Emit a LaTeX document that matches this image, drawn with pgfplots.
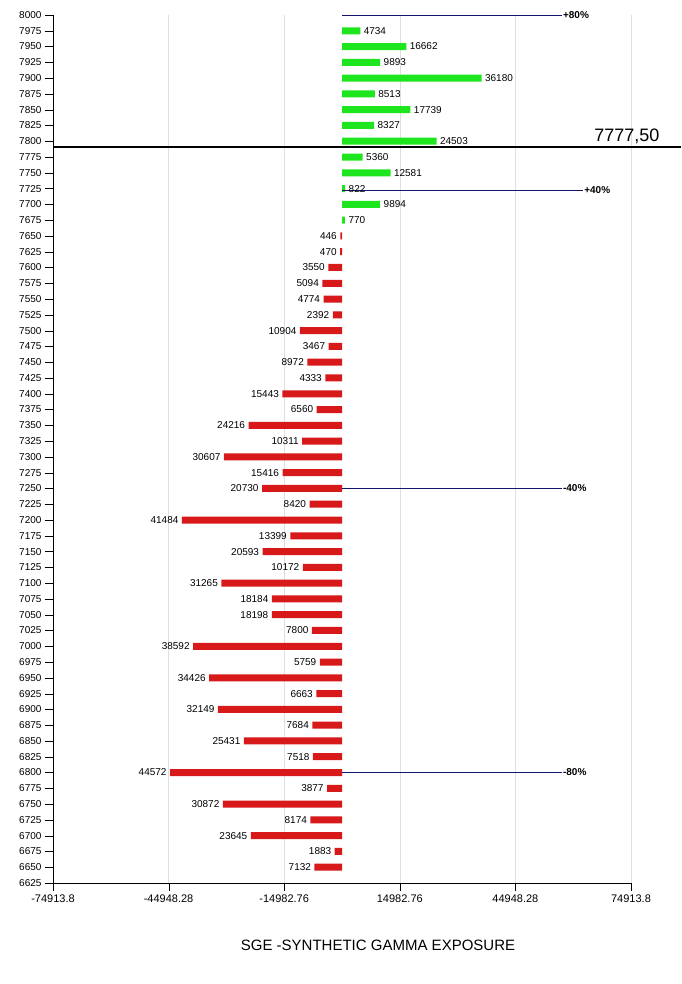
\documentclass[border=0pt]{standalone}
\usepackage{pgfplots}
\usepackage{pgfplotstable}
\pgfplotsset{compat=1.18}
\usepackage{fontspec}
\setmainfont{Liberation Sans}
\definecolor{gr}{RGB}{30,230,30}
\definecolor{rd}{RGB}{215,25,25}
\definecolor{navy}{RGB}{20,20,110}
\pgfplotstableread{
y v m
7975 4734 4734
7950 16662 16662
7925 9893 9893
7900 36180 36180
7875 8513 8513
7850 17739 17739
7825 8327 8327
7800 24503 24503
7775 5360 5360
7750 12581 12581
7725 822 822
7700 9894 9894
7675 770 770
}\pos
\pgfplotstableread{
y v m
7650 -446 446
7625 -470 470
7600 -3550 3550
7575 -5094 5094
7550 -4774 4774
7525 -2392 2392
7500 -10904 10904
7475 -3467 3467
7450 -8972 8972
7425 -4333 4333
7400 -15443 15443
7375 -6560 6560
7350 -24216 24216
7325 -10311 10311
7300 -30607 30607
7275 -15416 15416
7250 -20730 20730
7225 -8420 8420
7200 -41484 41484
7175 -13399 13399
7150 -20593 20593
7125 -10172 10172
7100 -31265 31265
7075 -18184 18184
7050 -18198 18198
7025 -7800 7800
7000 -38592 38592
6975 -5759 5759
6950 -34426 34426
6925 -6663 6663
6900 -32149 32149
6875 -7684 7684
6850 -25431 25431
6825 -7518 7518
6800 -44572 44572
6775 -3877 3877
6750 -30872 30872
6725 -8174 8174
6700 -23645 23645
6675 -1883 1883
6650 -7132 7132
}\negv
\begin{document}
\begin{tikzpicture}[x=1pt,y=1pt]
\path[use as bounding box] (0,0) rectangle (681,984);
\begin{axis}[at={(53pt,101pt)}, anchor=south west,
  scale only axis, width=578pt, height=868pt,
  xmin=-74913.8, xmax=74913.8, ymin=6625, ymax=8000,
  scaled x ticks=false,
  xtick={-74913.8,-44948.28,-14982.76,14982.76,44948.28,74913.8},
  xticklabels={-74913.8,-44948.28,-14982.76,14982.76,44948.28,74913.8},
  ytick={6625,6650,...,8000},
  yticklabel style={font=\fontsize{10}{11}\selectfont},
  xticklabel style={font=\fontsize{11}{12}\selectfont},
  /pgf/number format/assume math mode=true,
  /pgf/number format/.cd, fixed, 1000 sep={}, /pgfplots/.cd,
  axis x line*=bottom, axis y line*=left,
  tick align=outside, major tick length=8pt,
  xmajorgrids, grid style={gray!25},
  tick style={black}, axis line style={black},
  clip=false,
  xbar, bar width=7pt, bar shift=0pt,
  nodes near coords, point meta=explicit,
  every node near coord/.append style={font=\fontsize{10}{11}\selectfont, black},
]
\addplot[fill=gr, draw=none, nodes near coords align={horizontal}] table[x=v,y=y,meta=m]{\pos};
\addplot[fill=rd, draw=none, nodes near coords align={horizontal},
  every node near coord/.append style={anchor=east}] table[x=v,y=y,meta=m]{\negv};
\draw[navy, thin] (axis cs:0,8000) -- (axis cs:57000,8000) node[right, inner sep=1pt, font=\bfseries\fontsize{10}{11}\selectfont, black]{+80\%};
\draw[navy, thin] (axis cs:0,7722) -- (axis cs:62500,7722) node[right, inner sep=1pt, font=\bfseries\fontsize{10}{11}\selectfont, black]{+40\%};
\draw[navy, thin] (axis cs:0,7250) -- (axis cs:57000,7250) node[right, inner sep=1pt, font=\bfseries\fontsize{10}{11}\selectfont, black]{-40\%};
\draw[navy, thin] (axis cs:0,6800) -- (axis cs:57000,6800) node[right, inner sep=1pt, font=\bfseries\fontsize{10}{11}\selectfont, black]{-80\%};
\draw[black, line width=2.2pt] (axis cs:-74913.8,7791) -- ([xshift=628pt]axis cs:-74913.8,7791);
\node[anchor=south east, font=\fontsize{18}{19}\selectfont] at ([xshift=32pt]axis cs:74913.8,7791) {7777,50};
\end{axis}
\node[font=\fontsize{15}{17}\selectfont] at (378,39) {SGE -SYNTHETIC GAMMA EXPOSURE};
\end{tikzpicture}
\end{document}
